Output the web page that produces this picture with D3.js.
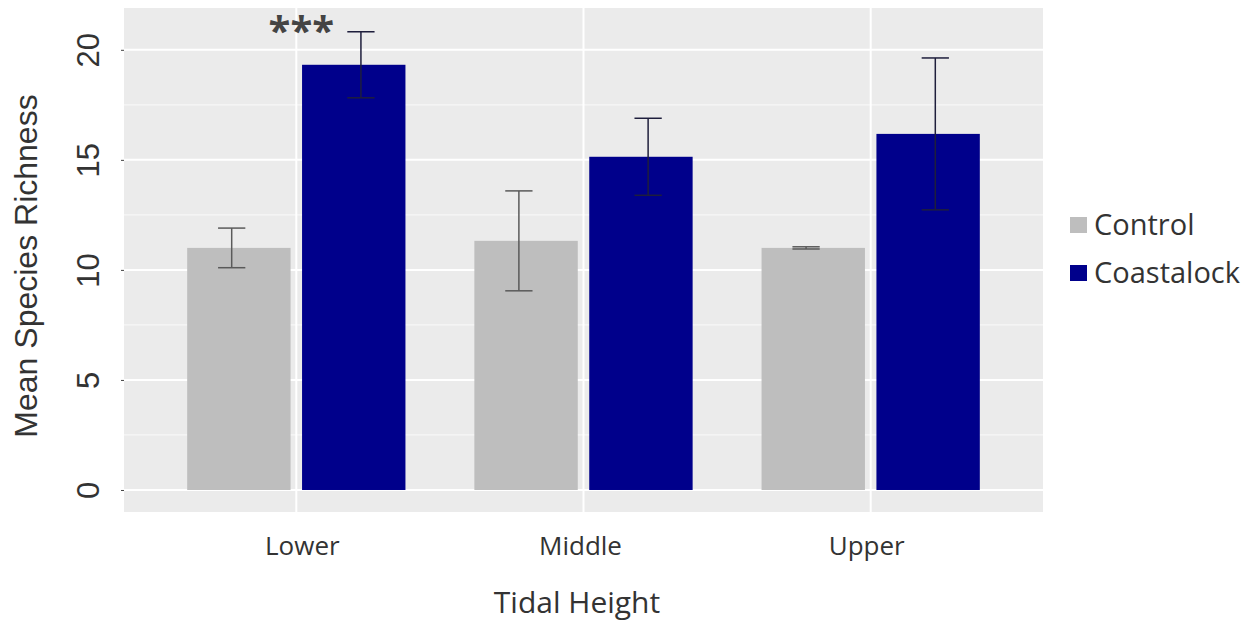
<!DOCTYPE html>
<html>
<head>
<meta charset="utf-8">
<script src="https://cdn.jsdelivr.net/npm/d3@7"></script>
<style>
  body { margin: 0; background: #fff; }
  svg { display: block; }
  text { font-family: "Open Sans", sans-serif; }
</style>
</head>
<body>
<svg id="chart" width="1253" height="622"></svg>
<script>
const categories = ["Lower", "Middle", "Upper"];
const series = ["Control", "Coastalock"];
const controlMeans = [11.0, 11.32, 11.0];
const controlSE = [0.9, 2.27, 0.05];
const coastalockMeans = [19.32, 15.14, 16.18];
const coastalockSE = [1.5, 1.75, 3.45];
const yTicks = [0, 5, 10, 15, 20];
const yMinor = [2.5, 7.5, 12.5, 17.5];
const significance = [{ category: "Lower", label: "***" }];

const colors = { Control: "#bebebe", Coastalock: "#00008b" };

const rows = [];
categories.forEach((c, i) => {
  rows.push({ category: c, series: "Control", mean: controlMeans[i], se: controlSE[i] });
  rows.push({ category: c, series: "Coastalock", mean: coastalockMeans[i], se: coastalockSE[i] });
});

const svg = d3.select("#chart");
const panel = { left: 124, right: 1043, top: 8, bottom: 512 };

const x0 = d3.scaleBand().domain(categories).range([panel.left, panel.right])
  .paddingInner(0).paddingOuter(0.1);
const step = x0.step();
const x1 = d3.scaleBand().domain(series).range([0.1 * step, 0.9 * step])
  .paddingInner(0.1).paddingOuter(0.05);
const xe = d3.scaleBand().domain(series).range([0.05 * step, 0.95 * step])
  .paddingInner(0).paddingOuter(0);

const y = d3.scaleLinear().domain([-1.0, 21.9]).range([panel.bottom, panel.top]);

// panel background
svg.append("rect")
  .attr("x", panel.left).attr("y", panel.top)
  .attr("width", panel.right - panel.left).attr("height", panel.bottom - panel.top)
  .attr("fill", "#ebebeb");

const grid = svg.append("g");
grid.selectAll(".minor").data(yMinor).join("line")
  .attr("x1", panel.left).attr("x2", panel.right)
  .attr("y1", d => y(d)).attr("y2", d => y(d))
  .attr("stroke", "#f7f7f7").attr("stroke-width", 1.2);
grid.selectAll(".major").data(yTicks).join("line")
  .attr("x1", panel.left).attr("x2", panel.right)
  .attr("y1", d => y(d)).attr("y2", d => y(d))
  .attr("stroke", "#ffffff").attr("stroke-width", 2);
grid.selectAll(".vmajor").data(categories).join("line")
  .attr("x1", d => x0(d) + x0.bandwidth() / 2).attr("x2", d => x0(d) + x0.bandwidth() / 2)
  .attr("y1", panel.top).attr("y2", panel.bottom)
  .attr("stroke", "#ffffff").attr("stroke-width", 2);

// bars
svg.append("g").selectAll("rect").data(rows).join("rect")
  .attr("x", d => x0(d.category) + x1(d.series))
  .attr("width", x1.bandwidth())
  .attr("y", d => y(d.mean))
  .attr("height", d => y(0) - y(d.mean))
  .attr("fill", d => colors[d.series]);

// error bars
const capW = 0.095 * step;
const eb = svg.append("g").selectAll("g").data(rows).join("g")
  .attr("stroke", d => d.series === "Control" ? "#5a5a5a" : "#1e1e3c")
  .attr("stroke-width", 1.5);
eb.append("line")
  .attr("x1", d => x0(d.category) + xe(d.series) + xe.bandwidth() / 2)
  .attr("x2", d => x0(d.category) + xe(d.series) + xe.bandwidth() / 2)
  .attr("y1", d => y(d.mean - d.se)).attr("y2", d => y(d.mean + d.se));
eb.append("line")
  .attr("x1", d => x0(d.category) + xe(d.series) + xe.bandwidth() / 2 - capW / 2)
  .attr("x2", d => x0(d.category) + xe(d.series) + xe.bandwidth() / 2 + capW / 2)
  .attr("y1", d => y(d.mean + d.se)).attr("y2", d => y(d.mean + d.se));
eb.append("line")
  .attr("x1", d => x0(d.category) + xe(d.series) + xe.bandwidth() / 2 - capW / 2)
  .attr("x2", d => x0(d.category) + xe(d.series) + xe.bandwidth() / 2 + capW / 2)
  .attr("y1", d => y(d.mean - d.se)).attr("y2", d => y(d.mean - d.se));

// significance
svg.append("g").selectAll("text").data(significance).join("text")
  .attr("x", d => x0(d.category) + x0.bandwidth() / 2 + 5)
  .attr("y", 45)
  .attr("text-anchor", "middle")
  .attr("font-size", 40).attr("font-weight", "bold")
  .attr("fill", "#444")
  .text(d => d.label);

// y axis
const yAxis = svg.append("g").attr("transform", `translate(${panel.left},0)`)
  .call(d3.axisLeft(y).tickValues(yTicks).tickSize(3).tickPadding(0).tickFormat(d3.format("d")));
yAxis.select(".domain").remove();
yAxis.selectAll(".tick line").attr("stroke", "#444");
yAxis.selectAll(".tick text")
  .attr("transform", "translate(-36,0) rotate(-90)")
  .attr("x", 0).attr("dy", "0.36em")
  .attr("text-anchor", "middle")
  .attr("font-size", 31).attr("fill", "#333")
  .style("font-family", "'Liberation Sans', Arial, sans-serif");

// x axis
const xAxis = svg.append("g").attr("transform", `translate(0,${panel.bottom})`)
  .call(d3.axisBottom(x0).tickSize(0).tickPadding(25));
xAxis.select(".domain").remove();
xAxis.selectAll(".tick text")
  .attr("dx", (d, i) => [6, -3, -4][i])
  .attr("font-size", 26).attr("fill", "#333")
  .style("font-family", "'Open Sans', sans-serif");

// titles
svg.append("text")
  .attr("x", 577).attr("y", 613)
  .attr("text-anchor", "middle")
  .attr("font-size", 30).attr("fill", "#333")
  .text("Tidal Height");
svg.append("text")
  .attr("transform", "translate(37,266) rotate(-90)")
  .attr("text-anchor", "middle")
  .attr("font-size", 32).attr("fill", "#333")
  .style("font-family", "'Liberation Sans', Arial, sans-serif")
  .text("Mean Species Richness");

// legend
const legend = svg.append("g").selectAll("g").data(series).join("g")
  .attr("transform", (d, i) => `translate(1070,${217 + i * 48})`);
legend.append("rect")
  .attr("width", 17).attr("height", 16)
  .attr("fill", d => colors[d]);
legend.append("text")
  .attr("x", 24).attr("y", 8).attr("dy", "0.36em")
  .attr("font-size", 29).attr("fill", "#333")
  .text(d => d);
</script>
</body>
</html>
